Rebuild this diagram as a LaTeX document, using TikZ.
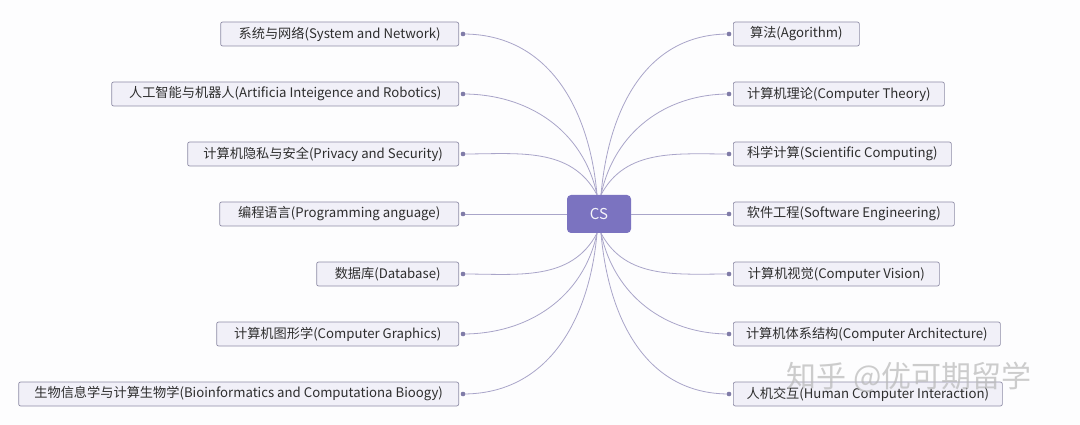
\documentclass[tikz,border=0pt]{standalone}
\usepackage{fontspec}
\setmainfont{Noto Sans CJK SC}
\usetikzlibrary{calc}
\definecolor{bg}{HTML}{FDFDFE}
\definecolor{boxfill}{HTML}{F1F0F8}
\definecolor{boxdraw}{HTML}{8E8CA6}
\definecolor{csfill}{HTML}{7B73C0}
\definecolor{link}{HTML}{A9A5C9}
\definecolor{dotc}{HTML}{807CA8}
\definecolor{txt}{HTML}{2E2E2E}
\definecolor{wm}{HTML}{B8B8B8}
\begin{document}
\begin{tikzpicture}[x=1pt,y=1pt,
  topic/.style={draw=boxdraw, fill=boxfill, rounded corners=2pt, minimum height=24pt,
    inner sep=0pt, font=\fontsize{13.2}{15}\selectfont, text=txt, line width=0.7pt},
  ltopic/.style={topic, anchor=east},
  rtopic/.style={topic, anchor=west},
  central/.style={fill=csfill, rounded corners=4pt, minimum width=64pt, minimum height=38pt,
    inner sep=0pt, text=white!92!csfill, font=\fontsize{15}{17}\selectfont},
  dotn/.style={circle, fill=dotc, minimum size=4.5pt, inner sep=0pt},
  link/.style={draw=link, line width=0.8pt}]
\fill[bg] (0,0) rectangle (1080,-425);
\useasboundingbox (0,0) rectangle (1080,-425);

\node[central] (cs) at (599,-214) {CS};

% left topics
\node[ltopic, minimum width=238pt] (l1) at (459,-34) {系统与网络(System and Network)};
\node[ltopic, minimum width=347pt] (l2) at (459,-94) {人工智能与机器人(Artificia Inteigence and Robotics)};
\node[ltopic, minimum width=271pt] (l3) at (459,-154) {计算机隐私与安全(Privacy and Security)};
\node[ltopic, minimum width=239pt] (l4) at (459,-214) {编程语言(Programming anguage)};
\node[ltopic, minimum width=142pt] (l5) at (459,-274) {数据库(Database)};
\node[ltopic, minimum width=242pt] (l6) at (459,-334) {计算机图形学(Computer Graphics)};
\node[ltopic, minimum width=440pt] (l7) at (459,-394) {生物信息学与计算生物学(Bioinformatics and Computationa Bioogy)};

% right topics
\node[rtopic, minimum width=126pt] (r1) at (733,-34) {算法(Agorithm)};
\node[rtopic, minimum width=211pt] (r2) at (733,-94) {计算机理论(Computer Theory)};
\node[rtopic, minimum width=218pt] (r3) at (733,-154) {科学计算(Scientific Computing)};
\node[rtopic, minimum width=221pt] (r4) at (733,-214) {软件工程(Software Engineering)};
\node[rtopic, minimum width=206pt] (r5) at (733,-274) {计算机视觉(Computer Vision)};
\node[rtopic, minimum width=267pt] (r6) at (733,-334) {计算机体系结构(Computer Architecture)};
\node[rtopic, minimum width=269pt] (r7) at (733,-394) {人机交互(Human Computer Interaction)};

% dots
\foreach \i in {1,...,7}{
  \node[dotn] (dl\i) at ($(l\i.east)+(4,0)$) {};
  \node[dotn] (dr\i) at ($(r\i.west)+(-4,0)$) {};
}

\coordinate (tl) at ($(cs.north)+(-2,0)$);
\coordinate (tr) at ($(cs.north)+(2,0)$);
\coordinate (bl) at ($(cs.south)+(-2,0)$);
\coordinate (br) at ($(cs.south)+(2,0)$);

% connectors
\draw[link] (tl) to[out=95,in=0,looseness=1.05] (dl1.center);
\draw[link] (tl) to[out=102,in=0] (dl2.center);
\draw[link] (tl) to[out=118,in=0] (dl3.center);
\draw[link] (cs.west) -- (dl4.center);
\draw[link] (bl) to[out=-118,in=0] (dl5.center);
\draw[link] (bl) to[out=-102,in=0] (dl6.center);
\draw[link] (bl) to[out=-95,in=0,looseness=1.05] (dl7.center);

\draw[link] (tr) to[out=85,in=180,looseness=1.05] (dr1.center);
\draw[link] (tr) to[out=78,in=180] (dr2.center);
\draw[link] (tr) to[out=62,in=180] (dr3.center);
\draw[link] (cs.east) -- (dr4.center);
\draw[link] (br) to[out=-62,in=180] (dr5.center);
\draw[link] (br) to[out=-78,in=180] (dr6.center);
\draw[link] (br) to[out=-85,in=180,looseness=1.05] (dr7.center);

% redraw dots on top
\foreach \i in {1,...,7}{
  \fill[dotc] (dl\i) circle (2.2pt);
  \fill[dotc] (dr\i) circle (2.2pt);
}

% watermark
\node[text=wm, opacity=0.7, font=\fontsize{30}{32}\selectfont, anchor=west] (wmk) at (783,-377) {知乎 @优可期留学};
\end{tikzpicture}
\end{document}
